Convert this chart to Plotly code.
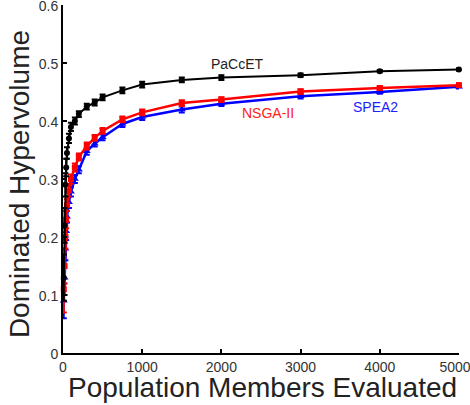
import plotly.graph_objects as go

evals = [10, 20, 30, 40, 50, 75, 100, 150, 200, 300, 400, 500, 750, 1000, 1500, 2000, 3000, 4000, 5000]

paccet = [0.13, 0.22, 0.29, 0.32, 0.345, 0.37, 0.39, 0.40, 0.412, 0.425, 0.432, 0.441, 0.453, 0.463, 0.471, 0.475, 0.479, 0.486, 0.489]
paccet_err = [0.04, 0.03, 0.02, 0.015, 0.01, 0.008, 0.007, 0.006, 0.005, 0.005, 0.005, 0.005, 0.005, 0.005, 0.004, 0.004, 0.003, 0.002, 0.002]

nsga = [0.11, 0.15, 0.20, 0.23, 0.255, 0.28, 0.30, 0.32, 0.338, 0.357, 0.371, 0.383, 0.403, 0.415, 0.431, 0.437, 0.451, 0.457, 0.462]
nsga_err = [0.04, 0.03, 0.02, 0.015, 0.01, 0.01, 0.008, 0.007, 0.006, 0.006, 0.005, 0.005, 0.005, 0.005, 0.005, 0.004, 0.004, 0.003, 0.003]

spea = [0.09, 0.13, 0.18, 0.21, 0.235, 0.26, 0.278, 0.30, 0.316, 0.348, 0.361, 0.372, 0.395, 0.407, 0.420, 0.430, 0.443, 0.450, 0.459]
spea_err = [0.03, 0.03, 0.02, 0.015, 0.01, 0.01, 0.008, 0.007, 0.006, 0.006, 0.005, 0.005, 0.005, 0.005, 0.005, 0.004, 0.004, 0.003, 0.003]

x_ticks = [0, 1000, 2000, 3000, 4000, 5000]
x_tick_text = ["0", "1000", "2000", "3000", "4000", "5000"]
y_ticks = [0, 0.1, 0.2, 0.3, 0.4, 0.5, 0.6]
y_tick_text = ["0", "0.1", "0.2", "0.3", "0.4", "0.5", "0.6"]

series = [
    ("PaCcET", paccet, paccet_err, "black", "circle", 6, 2),
    ("NSGA-II", nsga, nsga_err, "#ff0000", "square", 6, 2.5),
    ("SPEA2", spea, spea_err, "#0000ff", "triangle-up", 7, 2.5),
]

fig = go.Figure()
for name, ys, es, col, sym, msz, lw in reversed(series):
    fig.add_trace(go.Scatter(
        x=evals, y=ys, name=name, mode="lines+markers",
        line=dict(color=col, width=lw),
        marker=dict(color=col, symbol=sym, size=msz),
        error_y=dict(type="data", array=es, color=col, thickness=2, width=3),
        showlegend=False, cliponaxis=False,
    ))

font_family = "Liberation Sans, Arial, sans-serif"

fig.add_annotation(x=2200, y=0.498, text="PaCcET", showarrow=False,
                   font=dict(family=font_family, size=14, color="#222222"))
fig.add_annotation(x=2590, y=0.414, text="NSGA-II", showarrow=False,
                   font=dict(family=font_family, size=14, color="#ff2020"))
fig.add_annotation(x=3940, y=0.425, text="SPEA2", showarrow=False,
                   font=dict(family=font_family, size=14, color="#2020ff"))

fig.add_annotation(xref="paper", yref="paper", x=0.504, y=-0.048, yanchor="top",
                   text="Population Members Evaluated", showarrow=False,
                   font=dict(family=font_family, size=28, color="#222222"))
fig.add_annotation(xref="paper", yref="paper", x=-0.108, y=0.486, xanchor="center",
                   text="Dominated Hypervolume", showarrow=False, textangle=-90,
                   font=dict(family=font_family, size=28, color="#222222"))

# pad the last x label so it stays inside the window, as in the reference
x_tick_display = x_tick_text[:-1] + [x_tick_text[-1] + "&nbsp;&nbsp;"]

fig.update_layout(
    width=470, height=405,
    margin=dict(l=63, r=11, t=5, b=52, autoexpand=False),
    paper_bgcolor="white", plot_bgcolor="white",
    font=dict(family=font_family, size=14, color="#333333"),
)
fig.update_xaxes(range=[0, 5000.5], tickvals=x_ticks, ticktext=x_tick_display,
                 ticks="inside", ticklen=4,
                 tickwidth=1.5, tickcolor="black", showline=True, linecolor="black",
                 linewidth=2, showgrid=False, zeroline=False, ticklabelstandoff=0,
                 ticklabeloverflow="allow", automargin=False)
fig.update_yaxes(range=[0, 0.6002], tickvals=y_ticks, ticktext=y_tick_text, ticks="inside",
                 ticklen=4, tickwidth=1.5, tickcolor="black", showline=True,
                 linecolor="black", linewidth=2, showgrid=False, zeroline=False,
                 ticklabelstandoff=0, ticklabelshift=1,
                 ticklabeloverflow="allow", automargin=False)

fig.write_html("out.html")
